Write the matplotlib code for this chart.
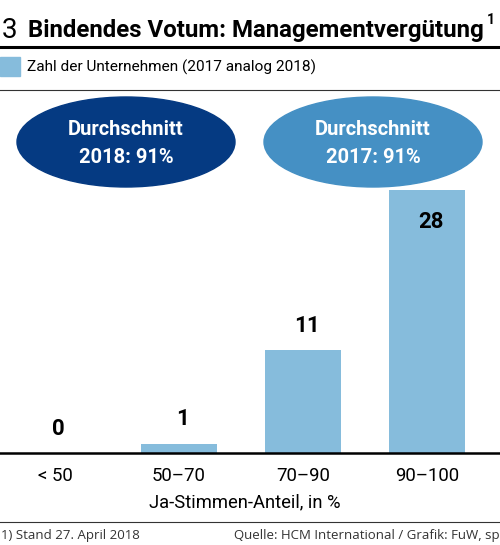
import matplotlib
matplotlib.use("Agg")
import matplotlib.pyplot as plt
from matplotlib.patches import Ellipse, Rectangle
from matplotlib.lines import Line2D

# Data
categories = ["< 50", "50–70", "70–90", "90–100"]
counts = [0, 1, 11, 28]
title = "Bindendes Votum: Managementvergütung"
legend_label = "Zahl der Unternehmen (2017 analog 2018)"
avg_labels = ["Durchschnitt\n2018: 91%", "Durchschnitt\n2017: 91%"]
xlabel = "Ja-Stimmen-Anteil, in %"
footnote = "1) Stand 27. April 2018"
source = "Quelle: HCM International / Grafik: FuW, sp"

bar_color = "#86bcdc"
dark_blue = "#053a82"
mid_blue = "#4590c4"
plt.rcParams["font.family"] = ["Roboto", "DejaVu Sans"]

W, H = 500, 545
fig = plt.figure(figsize=(W / 100, H / 100), dpi=100)


def fx(px):
    return px / W


def fy(py):
    return 1 - py / H


fit = []  # (text, target width px)

# title and rules
fig.text(fx(2), fy(31), "3", fontsize=20, va="center", ha="left")
t = fig.text(fx(28), fy(31), title, fontsize=17, fontweight="bold",
             va="center", ha="left")
fit.append((t, 457))
fig.text(fx(487), fy(20), "1", fontsize=10, fontweight="bold",
         va="center", ha="left")
fig.add_artist(Line2D([0, 1], [fy(47), fy(47)], color="black", lw=2.2))
fig.add_artist(Line2D([0, 1], [fy(90), fy(90)], color="#333333", lw=0.8))
fig.add_artist(Line2D([0, 1], [fy(522), fy(522)], color="#333333", lw=0.8))

# legend
fig.add_artist(Rectangle((fx(0), fy(76)), fx(20), 19 / H, color=bar_color))
t = fig.text(fx(27), fy(67), legend_label, fontsize=14, va="center", ha="left")
fit.append((t, 290))

# bar axes: baseline at y=453 px, top at y=90 px
ax = fig.add_axes([0, fy(453), 1, (453 - 90) / H])
x = list(range(len(categories)))
ax.bar(x, counts, width=0.605, color=bar_color)
ax.set_xlim(-55 / 124, (500 - 55) / 124)
ax.set_ylim(0, 363 / 9.39)
for i, c in enumerate(counts):
    if c > 20:
        ax.text(i + 0.03, c - 2.2, str(c), ha="center", va="top", fontsize=16,
                fontweight="bold")
    else:
        ax.text(i + 0.03, c + 1.4, str(c), ha="center", va="bottom", fontsize=16,
                fontweight="bold")
for s in ["top", "right", "left"]:
    ax.spines[s].set_visible(False)
ax.spines["bottom"].set_linewidth(1.8)
ax.set_yticks([])
ax.set_xticks(x)
ax.set_xticklabels(categories, fontsize=15)
ax.tick_params(axis="x", length=0, pad=10)
ax.patch.set_visible(False)

t = fig.text(fx(245), fy(502), xlabel, fontsize=15, ha="center", va="center")
fit.append((t, 192))

# average ellipses
for cx, col, lab in [(126, dark_blue, avg_labels[0]), (373, mid_blue, avg_labels[1])]:
    fig.add_artist(Ellipse((fx(cx), fy(142)), 218 / W, 90 / H, color=col))
    t = fig.text(fx(cx), fy(143), lab, color="white", fontsize=16, fontweight="bold",
                 ha="center", va="center", linespacing=1.6)
    fit.append((t, 116))

# footer
fig.text(fx(1), fy(536), footnote, fontsize=9.5, family="Open Sans", color="#333333",
         ha="left", va="center")
fig.text(fx(500), fy(536), source, fontsize=9.5, family="Open Sans", color="#333333",
         ha="right", va="center")

# scale font sizes so text widths match the reference
fig.canvas.draw()
r = fig.canvas.get_renderer()
for t, target in fit:
    w = t.get_window_extent(r).width
    t.set_fontsize(t.get_fontsize() * target / w)
labels = ax.get_xticklabels()
sizes = []
for lab, target in zip(labels, [38, 50, 50, 68]):
    sizes.append(lab.get_fontsize() * target / lab.get_window_extent(r).width)
tick_size = sum(sizes) / len(sizes)
ax.tick_params(axis="x", labelsize=tick_size)

fig.savefig("out.png", dpi=100)
